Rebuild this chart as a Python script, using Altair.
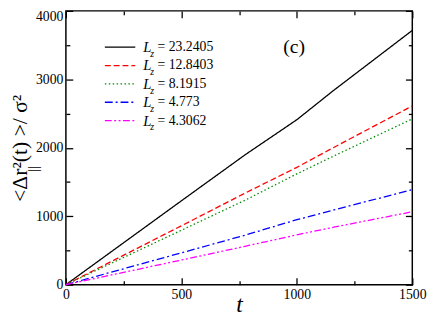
import altair as alt
import pandas as pd

# ---- data ----
T = [0, 500, 775, 1000, 1160, 1500]
LZ_23_2405 = [0, 1225, 1895, 2410, 2840, 3715]
LZ_12_8403 = [0, 860, 1336, 1714, 2005, 2611]
LZ_8_1915 = [0, 795, 1232, 1619, 1880, 2422]
LZ_4_773 = [0, 465, 722, 949, 1092, 1388]
LZ_4_3062 = [0, 360, 560, 728, 840, 1065]

SERIES = ["23.2405", "12.8403", "8.1915", "4.773", "4.3062"]
VALUES = [LZ_23_2405, LZ_12_8403, LZ_8_1915, LZ_4_773, LZ_4_3062]
COLORS = ["#000000", "#ff0000", "#008b00", "#0000ff", "#ff00ff"]
DASHES = [[1, 0], [6, 3], [1.5, 2.5], [8, 3, 2, 3], [7, 2.5, 2, 2.5, 2, 2.5]]

X_MAJOR = [0, 500, 1000, 1500]
X_MINOR = [250, 750, 1250]
Y_MAJOR = [0, 1000, 2000, 3000, 4000]
Y_MINOR = [500, 1500, 2500, 3500]

rows = []
for name, vals in zip(SERIES, VALUES):
    for t, v in zip(T, vals):
        rows.append({"series": name, "t": t, "v": v})
df = pd.DataFrame(rows)

W, H = 353, 279
FONT = "Liberation Serif"

xs = alt.Scale(domain=[0, 1500], nice=False, zero=False)
ys = alt.Scale(domain=[0, 4000], nice=False, zero=False)
cs = alt.Scale(domain=SERIES, range=COLORS)
ds = alt.Scale(domain=SERIES, range=DASHES)


def tick_axis(orient, values, size, offset):
    return alt.Axis(orient=orient, values=values, tickSize=size, offset=offset,
                    labels=False, domain=False, grid=False, title=None,
                    tickColor="black", tickWidth=1.3)


def axis_layer(xaxis, yaxis):
    return alt.Chart(df).mark_point(opacity=0).encode(
        x=alt.X("t:Q", scale=xs, axis=xaxis),
        y=alt.Y("v:Q", scale=ys, axis=yaxis),
    )


lines = alt.Chart(df).mark_line(strokeWidth=1.3).encode(
    x=alt.X("t:Q", scale=xs, axis=alt.Axis(
        orient="bottom", values=X_MAJOR, format="d", ticks=False, tickSize=0, domain=False,
        grid=False, labelFont=FONT, labelFontSize=14, labelColor="black",
        labelPadding=3, labelFlush=False, title="t", titleFont=FONT,
        titleFontStyle="italic", titleFontWeight="normal", titleFontSize=24,
        titleColor="black", titleBaseline="alphabetic", titleY=27)),
    y=alt.Y("v:Q", scale=ys, axis=alt.Axis(
        orient="left", values=Y_MAJOR, format="d", ticks=False, tickSize=0, domain=False,
        grid=False, labelFont=FONT, labelFontSize=14, labelColor="black",
        labelPadding=3, labelFlush=False,
        labelOffset=alt.condition("datum.value == 4000", alt.value(5.5), alt.value(0)),
        title="<Δr²(t) >/ σ²", titleFont=FONT,
        titleFontWeight="normal", titleFontSize=22, titleColor="black",
        titlePadding=4)),
    color=alt.Color("series:N", scale=cs, legend=None),
    strokeDash=alt.StrokeDash("series:N", scale=ds, legend=None),
)

ax1 = axis_layer(tick_axis("top", X_MAJOR, 7, -H), tick_axis("right", Y_MAJOR, 7, -W))
ax2 = axis_layer(tick_axis("top", X_MINOR, 4, -H), tick_axis("right", Y_MINOR, 4, -W))
ax3 = axis_layer(tick_axis("bottom", X_MAJOR, 7, -H), tick_axis("left", Y_MAJOR, 7, -W))
ax4 = axis_layer(tick_axis("bottom", X_MINOR, 4, -H), tick_axis("left", Y_MINOR, 4, -W))

# ---- hand-built legend (layout in pixels, colours/dashes from the scales) ----
LEG_Y0, LEG_DY = 37, 18.7
leg = pd.DataFrame({"series": SERIES})
leg["ly"] = [LEG_Y0 + i * LEG_DY for i in range(len(SERIES))]
leg["zy"] = leg["ly"] + 7
leg["txt"] = "= " + leg["series"]

leg_lines = alt.Chart(leg).mark_rule(strokeWidth=1.3).encode(
    x=alt.value(39.7), x2=alt.value(70.7), y=alt.Y("ly:Q", scale=None),
    color=alt.Color("series:N", scale=cs, legend=None),
    strokeDash=alt.StrokeDash("series:N", scale=ds, legend=None),
)
L_text = alt.Chart(leg).mark_text(text="L", font=FONT, fontStyle="italic", fontSize=15,
                                  align="left", baseline="middle", color="black").encode(
    x=alt.value(78.7), y=alt.Y("ly:Q", scale=None))
z_text = alt.Chart(leg).mark_text(text="z", font=FONT, fontStyle="italic", fontSize=10,
                                  align="left", baseline="middle", color="black").encode(
    x=alt.value(86.0), y=alt.Y("zy:Q", scale=None))
val_text = alt.Chart(leg).mark_text(font=FONT, fontSize=14, align="left",
                                    baseline="middle", color="black").encode(
    x=alt.value(93.4), y=alt.Y("ly:Q", scale=None), text="txt:N")

tag = alt.Chart(alt.Data(values=[{}])).mark_text(
    text="(c)", font=FONT, fontSize=20, align="center", baseline="middle", color="black"
).encode(x=alt.value(232.5), y=alt.value(37))

sub = alt.Chart(alt.Data(values=[{}])).mark_text(
    text="||", font=FONT, fontSize=14, angle=270, align="center", baseline="middle", color="black"
).encode(x=alt.value(-32), y=alt.value(161))

chart = alt.layer(lines, ax1, ax2, ax3, ax4, leg_lines, L_text, z_text, val_text, tag, sub
).resolve_axis(x="independent", y="independent").properties(
    width=W, height=H,
    padding={"left": 59, "top": 0, "right": 16, "bottom": 30},
    autosize=alt.AutoSizeParams(type="none"),
).configure_view(stroke="black", strokeWidth=1.5).configure_axis(
    grid=False, labelFont=FONT, titleFont=FONT)

chart.save("out.html", embed_options={"renderer": "svg", "actions": False})
